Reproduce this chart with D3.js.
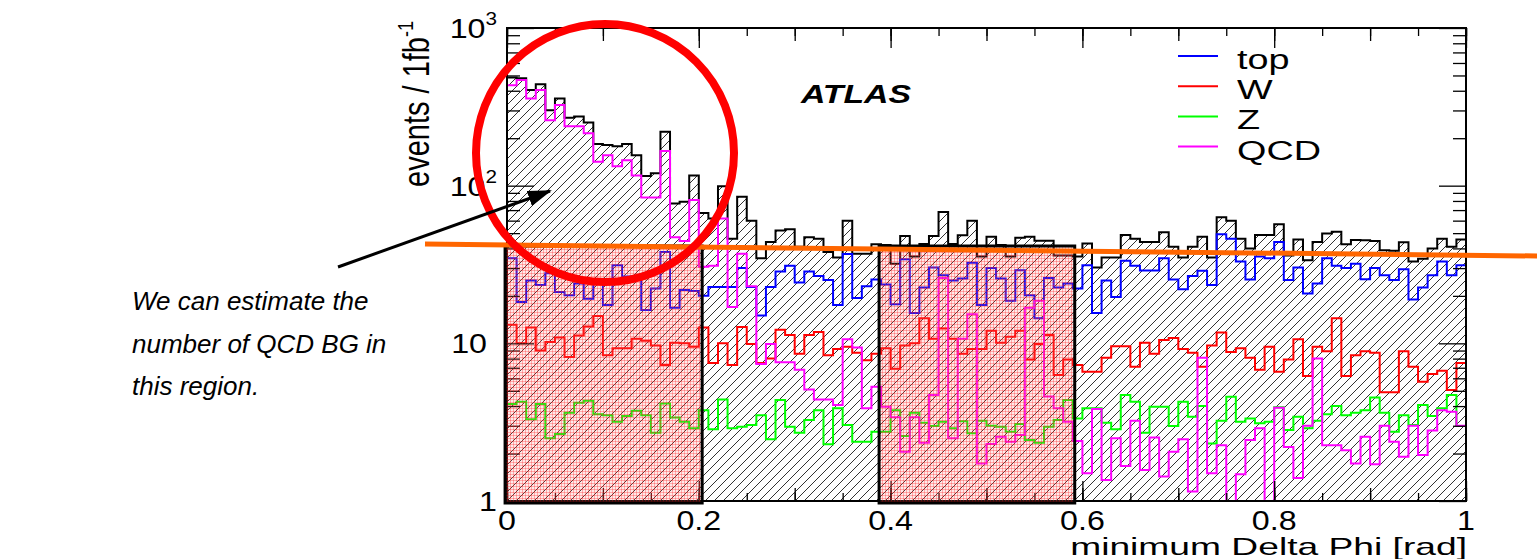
<!DOCTYPE html>
<html><head><meta charset="utf-8">
<script src="https://cdnjs.cloudflare.com/ajax/libs/d3/7.8.5/d3.min.js"></script>
<style>html,body{margin:0;padding:0;background:#fff;}svg{display:block;font-family:"Liberation Sans",Arial,sans-serif;}</style>
</head><body>
<svg id="chart" width="1537" height="559"></svg>
<script>
// ---------- data ----------
const nBins = 100, xMin = 0, xMax = 1;
const seriesNames = ["top", "W", "Z", "QCD"];
const seriesColors = ["#0000ff", "#ff0000", "#00ff00", "#ff00ff"];
const total = [486,480,404,439,301,357,270,275,252,184, 181,178,184,156,115,120,220,77,79,116,
  67,62,99,46,85,60,34.6,44,52,53, 41,47,46,38,35,60,37,37,42.5,42,
  32,48,35.5,42.6,48,68,42.6,48.5,60,35.5, 47.5,42,35.5,46.7,47.5,44.8,44.8,36,36,35.5,
  43,30.3,35,35,48.6,46,44,44,50.6,41, 35,41,47.5,35,63,60,46,40,48.6,48.6,
  57,36,45.6,33.7,44,49.7,51,42.5,45.2,45, 44.5,39,38.6,43.8,33,34.4,40,46,41,45.6];
const topVals = [34.6,18.3,25,23.4,27.8,21.2,20.2,24,19.2,24, 17.5,31.3,26.5,25.8,16.3,22.3,38,16.8,21.8,21.5,
  20,22.8,22.8,22.8,30,22.8,15,22.8,28.5,31, 24.3,28.5,26.7,25.2,17.5,36.8,19.4,23,25.4,23.6,
  17.7,34.2,15.6,22.6,30.3,27,25,25.8,32.5,17.5, 30,25.8,18.6,29.1,20.2,14.4,26,22.6,24,22.3,
  31.3,15.6,25,19.7,33.4,31,29,29,34.6,25.4, 22,26.7,28.9,23.4,49.1,46,33,25.4,35.5,34.6,
  44,25.2,30.3,20.7,24,34.6,31,30,32,25.5, 30,27,25.2,29.5,19,22.6,27,33,27,31.3];
const wVals = [13.1,10,12.6,9.0,10.2,10.9,8.2,11.2,12.8,14.9, 8.4,9.3,9.3,10.7,10.4,9.7,7.3,10.1,10,9.5,
  12.6,7.5,10,7.3,12.7,9.9,7.5,8.0,12.2,11.3, 8.6,11.3,11.8,8.4,9.2,9.5,8.7,7.8,8.6,9.3,
  6.9,9.7,10,14.4,10.7,12.4,10.7,8.6,9.2,9.2, 12,10.1,11,12,7.9,9.9,11.3,6.3,7.9,7.3,
  6.6,6.6,8.1,9.6,9.6,7.1,10.1,8.6,10.5,10.8, 9.2,8.7,7.1,9.7,11.7,8.8,9.3,8.1,6.8,9.5,
  6.6,7.9,10.6,6.2,9.5,8.9,14.4,6.2,8.4,8.9, 8.7,4.9,4.9,8.9,7.1,5.7,6.4,6.7,5.05,7.5];
const zVals = [4.12,4.26,3.3,4.12,2.5,2.66,3.63,4.2,4.32,3.55, 3.5,3.18,3.46,3.74,3.5,2.71,4.16,3.39,3.18,2.89,
  3.77,2.85,4.4,2.89,2.96,3.03,3.5,2.46,4.37,2.96, 2.71,3.26,3.77,2.29,3.87,3.03,2.38,2.38,2.75,2.75,
  3.77,2.58,3.63,3.13,2.99,3.18,2.89,3.2,2.69,3.23, 3.0,2.96,2.75,3.08,2.44,2.34,2.96,3.26,4.37,3.34,
  3.87,3.87,3.13,2.85,4.7,4.26,2.71,3.96,3.96,2.99, 4.26,3.42,4.0,2.32,3.23,4.58,3.18,3.34,3.11,3.18,
  3.93,2.82,3.42,2.89,3.23,3.55,4.0,3.5,3.63,3.77, 4.54,3.63,2.75,3.5,3.03,4.06,3.46,3.87,4.7,2.99];
const qcdVals = [434,468,357,404,260,325,238,238,215,142, 156,133,145,116,84,84,166,47,44.6,81,
  30.6,31,62,17,37,23,7.4,9.9,7.6,7.6, 6.8,5.1,4.4,4.4,4.06,10.6,9.4,3.87,5.3,3.96,
  3.4,2.05,3.4,2.34,4.7,26,2.5,10.7,15.3,1.73, 2.3,2.56,2.38,2.62,16.8,18.6,4.6,3.87,3.18,2.4,
  1.5,3.83,1.36,2.5,1.67,3.23,1.57,2.53,1.43,2.05, 2.46,1.15,8.1,1.5,2.26,1.0,1.48,2.44,2.89,1.0,
  3.9,2.2,1.4,3.0,8.0,2.26,2.26,2.1,1.73,2.56, 1.71,3.0,2.38,1.91,3.0,1.96,2.8,3.77,3.68,3.0];
const seriesValues = [topVals, wVals, zVals, qcdVals];
const xTickValues = [0, 0.2, 0.4, 0.6, 0.8, 1];
const xTickLabels = ["0", "0.2", "0.4", "0.6", "0.8", "1"];
const yTickValues = [1, 10, 100, 1000];
const yTickBases = ["1", "10", "10", "10"];
const yTickExps = ["", "", "2", "3"];
const noteLines = ["We can estimate the", "number of QCD BG in", "this region."];
const boxRanges = [[-0.002, 0.2035], [0.388, 0.592]];

// ---------- layout ----------
const svg = d3.select("#chart");
const P = {left: 507, right: 1466, top: 28, bottom: 501};
const x = d3.scaleLinear().domain([xMin, xMax]).range([P.left, P.right]);
const y = d3.scaleLog().domain([1, 1000]).range([P.bottom, P.top]).clamp(true);
const binW = (xMax - xMin) / nBins;
const edges = d3.range(nBins).map(i => xMin + i * binW);
const stepPts = vals => { const p = vals.map((v, i) => [edges[i], v]); p.push([xMax, vals[vals.length - 1]]); return p; };
const line = d3.line().x(d => x(d[0])).y(d => y(Math.max(d[1], 1))).curve(d3.curveStepAfter);
const area = d3.area().x(d => x(d[0])).y0(P.bottom).y1(d => y(Math.max(d[1], 1))).curve(d3.curveStepAfter);

const defs = svg.append("defs");
const hatch = defs.append("pattern").attr("id", "hatch").attr("patternUnits", "userSpaceOnUse").attr("width", 9).attr("height", 9);
hatch.append("path").attr("d", "M-1,1 L1,-1 M0,9 L9,0 M8,10 L10,8").attr("stroke", "#333").attr("stroke-width", 1);
const bf = defs.append("pattern").attr("id", "boxfill").attr("patternUnits", "userSpaceOnUse").attr("width", 3).attr("height", 3);
bf.append("rect").attr("width", 3).attr("height", 3).attr("fill", "rgba(255,110,110,0.16)");
bf.append("path").attr("d", "M0,0.5H3M0.5,0V3").attr("stroke", "rgba(255,30,30,0.3)").attr("stroke-width", 1);
defs.append("clipPath").attr("id", "plotclip").append("rect")
  .attr("x", P.left).attr("y", P.top).attr("width", P.right - P.left).attr("height", P.bottom - P.top);
defs.append("marker").attr("id", "arrowhead").attr("markerUnits", "userSpaceOnUse")
  .attr("markerWidth", 24).attr("markerHeight", 16).attr("refX", 22).attr("refY", 8).attr("orient", "auto")
  .append("path").attr("d", "M0,0 L24,8 L0,16 Z").attr("fill", "#000");

const gPlot = svg.append("g").attr("clip-path", "url(#plotclip)");
gPlot.append("path").attr("d", area(stepPts(total))).attr("fill", "url(#hatch)");
gPlot.append("path").attr("d", line(stepPts(total))).attr("fill", "none").attr("stroke", "#000").attr("stroke-width", 2);
seriesValues.forEach((vals, k) => {
  gPlot.append("path").attr("d", line(stepPts(vals))).attr("fill", "none")
    .attr("stroke", seriesColors[k]).attr("stroke-width", 2);
});

// frame + ticks
function xTicks(step, len) {
  const vals = d3.range(0, 1.0001, step);
  svg.append("g").attr("transform", `translate(0,${P.bottom})`)
    .call(d3.axisBottom(x).tickValues(vals).tickSize(-len).tickFormat("").tickSizeOuter(0))
    .call(g => g.select(".domain").remove()).selectAll("line").attr("stroke-width", 1.3);
  svg.append("g").attr("transform", `translate(0,${P.top})`)
    .call(d3.axisTop(x).tickValues(vals).tickSize(-len).tickFormat("").tickSizeOuter(0))
    .call(g => g.select(".domain").remove()).selectAll("line").attr("stroke-width", 1.3);
}
xTicks(0.05, 8); xTicks(0.1, 13); xTicks(0.2, 20);
const minorY = [];
[1, 10, 100].forEach(d => { for (let m = 2; m <= 9; m++) minorY.push(d * m); });
function yTicks(vals, len) {
  svg.append("g").attr("transform", `translate(${P.left},0)`)
    .call(d3.axisLeft(y).tickValues(vals).tickSize(-len).tickFormat("").tickSizeOuter(0))
    .call(g => g.select(".domain").remove()).selectAll("line").attr("stroke-width", 1.3);
  svg.append("g").attr("transform", `translate(${P.right},0)`)
    .call(d3.axisRight(y).tickValues(vals).tickSize(-len).tickFormat("").tickSizeOuter(0))
    .call(g => g.select(".domain").remove()).selectAll("line").attr("stroke-width", 1.3);
}
yTicks(minorY, 13); yTicks(yTickValues, 27);
svg.append("rect").attr("x", P.left).attr("y", P.top).attr("width", P.right - P.left).attr("height", P.bottom - P.top)
  .attr("fill", "none").attr("stroke", "#000").attr("stroke-width", 2);

// tick labels
xTickValues.forEach((v, i) => {
  svg.append("text").attr("transform", `translate(${x(v)},530) scale(1.15,1)`).attr("text-anchor", "middle")
    .attr("font-size", 28).attr("fill", "#000").text(xTickLabels[i]);
});
yTickValues.forEach((v, i) => {
  const t = svg.append("text").attr("transform", `translate(${i === 1 ? 487 : 497},${y(v) + 10}) scale(1.15,1)`)
    .attr("text-anchor", "end").attr("font-size", 28).attr("fill", "#000");
  t.append("tspan").text(yTickBases[i]);
  if (yTickExps[i]) t.append("tspan").attr("font-size", 18).attr("dy", -13).text(yTickExps[i]);
});
// axis titles
const yl = svg.append("text").attr("transform", "translate(429,104) scale(1.25,1) rotate(-90)")
  .attr("text-anchor", "middle").attr("font-size", 29).attr("fill", "#000");
yl.append("tspan").text("events / 1fb");
yl.append("tspan").attr("font-size", 18).attr("dy", -13).text("-1");
svg.append("text").attr("transform", "translate(1467,555) scale(1.55,1)").attr("text-anchor", "end")
  .attr("font-size", 24).attr("fill", "#000").text("minimum Delta Phi [rad]");
svg.append("text").attr("transform", "translate(856,103) scale(1.3,1)").attr("text-anchor", "middle")
  .attr("font-size", 26).attr("font-weight", "bold").attr("font-style", "italic").attr("fill", "#000").text("ATLAS");

// legend
seriesNames.forEach((n, k) => {
  const ly = 56 + k * 30.2;
  svg.append("line").attr("x1", 1178).attr("x2", 1218).attr("y1", ly).attr("y2", ly)
    .attr("stroke", seriesColors[k]).attr("stroke-width", 2);
  svg.append("text").attr("transform", `translate(1237,${ly + 13}) scale(1.35,1)`)
    .attr("font-size", 28).attr("fill", "#000").text(n);
});

// annotations
boxRanges.forEach(r => {
  svg.append("rect").attr("x", x(r[0])).attr("y", 246).attr("width", x(r[1]) - x(r[0])).attr("height", 257)
    .attr("fill", "url(#boxfill)").attr("stroke", "#000").attr("stroke-width", 3);
});
svg.append("line").attr("x1", 425).attr("y1", 244).attr("x2", 1537).attr("y2", 256)
  .attr("stroke", "#ff6600").attr("stroke-width", 5);
svg.append("circle").attr("cx", 605).attr("cy", 153).attr("r", 129)
  .attr("fill", "none").attr("stroke", "#ff0000").attr("stroke-width", 8);
svg.append("line").attr("x1", 338).attr("y1", 267).attr("x2", 550).attr("y2", 191)
  .attr("stroke", "#000").attr("stroke-width", 3).attr("marker-end", "url(#arrowhead)");
noteLines.forEach((t, i) => {
  svg.append("text").attr("x", 132).attr("y", 310 + i * 42.5).attr("font-size", 26)
    .attr("font-style", "italic").attr("fill", "#000").text(t);
});
</script>
</body></html>
